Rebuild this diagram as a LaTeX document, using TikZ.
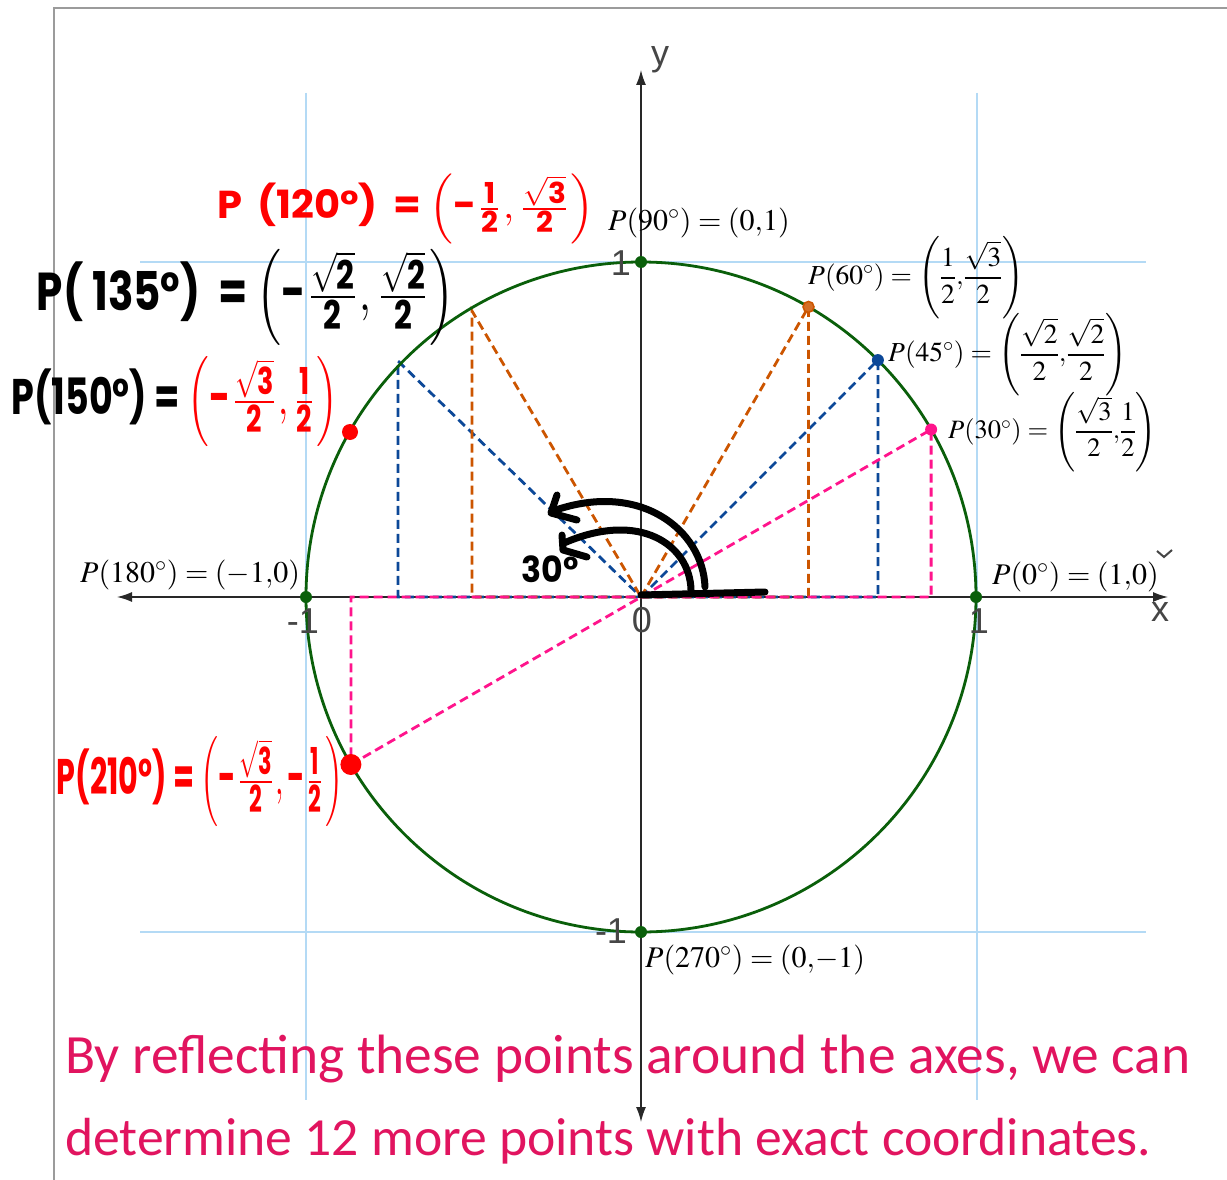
\documentclass[tikz,border=0pt]{standalone}
\usepackage{amsmath}
\usepackage{mathptmx}
\usepackage{graphicx}
\usepackage{fontspec}
\setmainfont{Liberation Serif}
\newfontfamily\handfont{Poppins}
\newfontfamily\axfont{Liberation Sans}
\newfontfamily\botfont{Carlito}
\usetikzlibrary{arrows.meta}

\definecolor{cgreen}{RGB}{10,95,10}
\definecolor{corange}{RGB}{204,85,0}
\definecolor{cblue}{RGB}{12,72,152}
\definecolor{cpink}{RGB}{255,20,140}
\definecolor{cgrid}{RGB}{180,218,245}
\definecolor{cred}{RGB}{255,0,0}
\definecolor{cbot}{RGB}{225,20,95}
\definecolor{caxis}{RGB}{40,40,40}
\definecolor{ctick}{RGB}{70,70,70}
\definecolor{cframe}{RGB}{155,155,155}

\newcommand{\eqs}{\mkern4mu{=}\mkern4mu}
\newcommand{\pp}[1]{{\left(#1\right)}}
\newcommand{\fr}[2]{{\dfrac{#1}{#2}}}

\begin{document}
\begin{tikzpicture}[x=1pt,y=-1pt,
  gridline/.style={cgrid,line width=1.5pt},
  axisline/.style={caxis,line width=1.4pt,-{Latex[length=15pt,width=10pt]}},
  dsh/.style={dash pattern=on 9pt off 5pt,line width=2.8pt},
  dot/.style={circle,inner sep=0pt,minimum size=12pt},
  lbl/.style={font=\fontsize{30}{33}\selectfont,inner sep=0pt,anchor=west},
  flbl/.style={font=\fontsize{27.5}{31}\selectfont,inner sep=0pt,anchor=west},
  tick/.style={font=\axfont\fontsize{36}{40}\selectfont,text=ctick,inner sep=0pt},
  hand/.style={inner sep=0pt,font=\handfont\bfseries},
  stroke/.style={line width=7pt,line cap=round,line join=round},
  bot/.style={inner sep=0pt,anchor=base west,text=cbot,font=\botfont\fontsize{50}{56}\selectfont}
]
\useasboundingbox (0,0) rectangle (1227,1180);
\fill[white] (0,0) rectangle (1227,1180);

% frame
\draw[cframe,line width=2pt] (54,1180) -- (54,8) -- (1227,8);

% grid
\draw[gridline] (140,262) -- (1146,262);
\draw[gridline] (140,932) -- (1146,932);
\draw[gridline] (306,93) -- (306,1100);
\draw[gridline] (977,93) -- (977,1100);

% coordinates
\coordinate (O) at (641,597);
\coordinate (xl) at (117,597);
\coordinate (xr) at (1168,597);
\coordinate (yt) at (641,70);
\coordinate (yb) at (641,1122);
\coordinate (p0) at (976,597);
\coordinate (p90) at (641,262);
\coordinate (p180) at (306,597);
\coordinate (p270) at (641,932);
\coordinate (p30) at (931.1,429.5);
\coordinate (p45) at (877.9,360.1);
\coordinate (p60) at (808.5,306.9);
\coordinate (p120) at (472,311);
\coordinate (p135) at (398,361);
\coordinate (p150) at (350,432);
\coordinate (p210) at (350.9,764.5);
\coordinate (f30) at (931.1,597);
\coordinate (f45) at (877.9,597);
\coordinate (f60) at (808.5,597);
\coordinate (f120) at (472,597);
\coordinate (f135) at (398,597);
\coordinate (f210) at (350.9,597);

% axes
\draw[axisline] (O) -- (xr);
\draw[axisline] (O) -- (xl);
\draw[axisline] (O) -- (yt);
\draw[axisline] (O) -- (yb);

% dashed constructions
\draw[dsh,cblue] (O) -- (p45) -- (f45) -- (f135) -- (p135) -- (O);
\draw[dsh,corange] (O) -- (p60) -- (f60) -- (f120) -- (p120) -- (O);
\draw[dsh,cpink] (p210) -- (p30) -- (f30) -- (f210) -- (p210);

% circle
\draw[cgreen,line width=2.8pt] (O) circle[radius=335pt];

% points
\node[dot,fill=cgreen] (n0) at (p0) {};
\node[dot,fill=cgreen] (n90) at (p90) {};
\node[dot,fill=cgreen] (n180) at (p180) {};
\node[dot,fill=cgreen] (n270) at (p270) {};
\node[dot,fill=corange!85!white,draw=corange,line width=1.5pt,minimum size=11pt] (n60) at (p60) {};
\node[dot,fill=cblue] (n45) at (p45) {};
\node[dot,fill=cpink] (n30) at (p30) {};
\node[dot,fill=cred,minimum size=16pt] (n150) at (p150) {};
\node[dot,fill=cred,minimum size=21pt] (n210) at (p210) {};

% typeset labels
\node[lbl] (L90) at (608,223) {$P\pp{90^\circ}\eqs\pp{0{,}1}$};
\node[flbl] (L60) at (808,278) {$P\pp{60^\circ}\eqs\pp{\fr{1}{2}{,}\fr{\sqrt{3}}{2}}$};
\node[flbl] (L45) at (888,355) {$P\pp{45^\circ}\eqs\pp{\fr{\sqrt{2}}{2}{,}\fr{\sqrt{2}}{2}}$};
\node[flbl,font=\fontsize{26.5}{30}\selectfont] (L30) at (948,432) {$P\pp{30^\circ}\eqs\pp{\fr{\sqrt{3}}{2}{,}\fr{1}{2}}$};
\node[lbl] (L180) at (80,575) {$P\pp{180^\circ}\eqs\pp{-1{,}0}$};
\node[lbl] (L0) at (992,577) {$P\pp{0^\circ}\eqs\pp{1{,}0}$};
\node[lbl] (L270) at (645,960) {$P\pp{270^\circ}\eqs\pp{0{,}{-1}}$};

% tick labels
\node[tick] (ty) at (660,60) {y};
\node[tick] (tx) at (1160,612) {x};
\node[tick] (t0) at (642,620) {0};
\node[tick] (t1x) at (979,621) {1};
\node[tick] (tm1x) at (303,621) {-1};
\node[tick] (t1y) at (621,263) {1};
\node[tick] (tm1y) at (611,931) {-1};
\draw[ctick,line width=2pt] (1157,551) -- (1164,557) -- (1172,550);

% handwritten annotations
\node[hand,text=cred] (h120) at (406,209) {\resizebox*{377pt}{70pt}{P \,(120°) \,= $\left(\text{-}\tfrac{\text{1}}{\text{2}},\tfrac{\sqrt{\text{3}}}{\text{2}}\right)$}};
\node[hand,text=black] (h135) at (246,297) {\resizebox*{418pt}{96pt}{P( 135°) \ = $\left(\text{-}\tfrac{\sqrt{\text{2}}}{\text{2}},\tfrac{\sqrt{\text{2}}}{\text{2}}\right)$}};
\node[hand,text=black] (h150) at (175,402) {\resizebox*{327pt}{90pt}{P(150°) = \textcolor{cred}{$\left(\text{-}\tfrac{\sqrt{\text{3}}}{\text{2}},\tfrac{\text{1}}{\text{2}}\right)$}}};
\node[hand,text=cred] (h210) at (200,782) {\resizebox*{286pt}{90pt}{P(210°) = $\left(\text{-}\tfrac{\sqrt{\text{3}}}{\text{2}},\text{-}\tfrac{\text{1}}{\text{2}}\right)$}};
\node[hand,text=black] (h30) at (550,569) {\resizebox*{57pt}{27pt}{30°}};

% hand-drawn arcs
\draw[stroke] (705,587) .. controls (703,530) and (640,480) .. (553,511);
\draw[stroke] (557,495) -- (551,513) -- (577,520);
\draw[stroke] (691,590) .. controls (690,545) and (640,510) .. (564,543);
\draw[stroke] (562,535) -- (563,550) -- (587,557);
\draw[stroke] (641,595) -- (765,592);

% bottom text
\node[bot] (b1) at (65,1073) {\resizebox{1125pt}{!}{By reflecting these points around the axes, we can}};
\node[bot] (b2) at (65,1155) {\resizebox{1086pt}{!}{determine 12 more points with exact coordinates.}};
\end{tikzpicture}
\end{document}
